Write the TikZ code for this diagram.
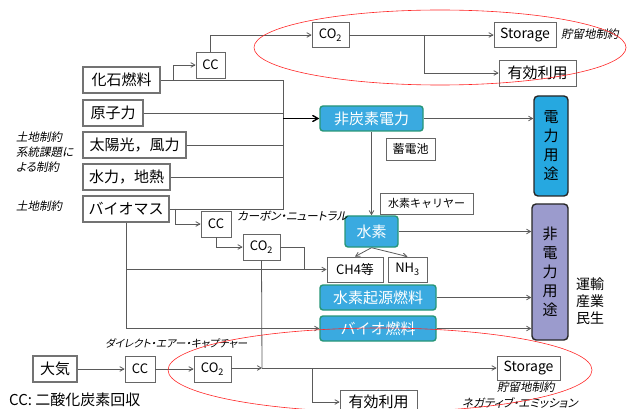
\documentclass[tikz,border=0pt]{standalone}
\usepackage{fontspec}
\setmainfont{Noto Sans CJK JP}
\newfontfamily\jpslant[FakeSlant=0.2,RawFeature=+palt]{Noto Sans CJK JP}
\usetikzlibrary{shapes,backgrounds,calc,arrows}
\tikzset{>=angle 60}

\definecolor{boxblue}{RGB}{58,170,224}
\definecolor{boxedge}{RGB}{40,150,120}
\definecolor{useblue}{RGB}{38,168,224}
\definecolor{usepurple}{RGB}{155,155,205}
\definecolor{linegray}{RGB}{90,90,90}

\begin{document}
\begin{tikzpicture}[x=1pt,y=-1pt]
\useasboundingbox (0,0) rectangle (627,409);

%% styles
\tikzstyle{srcbox}=[draw=black!55, line width=1.1pt, inner sep=0pt, minimum height=26, font=\fontsize{15}{18}\selectfont]

\tikzstyle{cbox}=[draw=black!60, line width=0.8pt, inner sep=0pt, minimum height=26, font=\fontsize{13}{15}\selectfont]

\tikzstyle{bluebox}=[draw=boxedge, fill=boxblue, text=white, rounded corners=3pt, line width=1.4pt, inner sep=0pt, minimum height=25, font=\fontsize{15}{18}\selectfont]

\tikzstyle{usebox}=[draw=black!85, rounded corners=4pt, line width=1.4pt, inner sep=0pt, align=center, font=\fontsize{15}{19}\selectfont]

\tikzstyle{note}=[inner sep=0pt, anchor=west, align=left, font=\jpslant\fontsize{11.5}{15}\selectfont]

\tikzstyle{conn}=[draw, linegray, line width=0.8pt]

%% sources
\node(fossil)[style=srcbox, minimum width=77] at (121.5,80) {化石燃料};
\node(nuclear)[style=srcbox, minimum width=60] at (113,113) {原子力};
\node(solar)[style=srcbox, minimum width=103] at (134.5,145) {太陽光，風力};
\node(hydro)[style=srcbox, minimum width=87] at (126.5,177) {水力，地熱};
\node(biomass)[style=srcbox, minimum width=86] at (126,209) {バイオマス};
\node(air)[style=srcbox, minimum width=44] at (55,369) {大気};

%% capture and storage
\node(cca)[style=cbox, minimum width=29] at (210.5,65) {CC};
\node(co2a)[style=cbox, minimum width=37, minimum height=25] at (330.5,35) {CO\textsubscript{2}};
\node(storea)[style=cbox, minimum width=62, minimum height=25, font=\fontsize{14}{16}\selectfont] at (525,35) {Storage};
\node(usea)[style=cbox, minimum width=77, font=\fontsize{15}{18}\selectfont] at (537.5,73) {有効利用};

\node(ccb)[style=cbox, minimum width=30] at (216,224) {CC};
\node(co2b)[style=cbox, minimum width=37] at (261.5,247) {CO\textsubscript{2}};

\node(ccc)[style=cbox, minimum width=30] at (140,369) {CC};
\node(co2c)[style=cbox, minimum width=37] at (212.5,369) {CO\textsubscript{2}};
\node(storeb)[style=cbox, minimum width=63, minimum height=24, font=\fontsize{14}{16}\selectfont] at (528.5,368) {Storage};
\node(useb)[style=cbox, minimum width=77, minimum height=24, font=\fontsize{15}{18}\selectfont] at (378.5,402) {有効利用};

%% carriers
\node(ncp)[style=bluebox, minimum width=103] at (371.5,118.5) {非炭素電力};
\node(batt)[style=cbox, minimum width=49, minimum height=22, font=\fontsize{12}{14}\selectfont] at (410.5,149) {蓄電池};
\node(carrier)[style=cbox, minimum width=93, minimum height=21, font=\fontsize{11}{13}\selectfont] at (426.5,203.5) {水素キャリヤー};
\node(h2)[style=bluebox, minimum width=53, minimum height=31] at (371.5,231.5) {水素};
\node(ch4)[style=cbox, minimum width=56, minimum height=25] at (355,269.5) {CH4等};
\node(nh3)[style=cbox, minimum width=39, minimum height=25] at (407.5,269.5) {NH\textsubscript{3}};
\node(h2fuel)[style=bluebox, minimum width=116] at (378,297.5) {水素起源燃料};
\node(biofuel)[style=bluebox, minimum width=116] at (378,328.5) {バイオ燃料};

%% end uses
\node(elec)[style=usebox, fill=useblue, minimum width=34, minimum height=100] at (551,146) {電\\力\\用\\途};
\node(nonelec)[style=usebox, fill=usepurple, minimum width=36, minimum height=136] at (550,272) {非\\電\\力\\用\\途};
\node(sector)[align=center, inner sep=0pt, font=\fontsize{14}{17}\selectfont] at (590,301) {運輸\\産業\\民生};

%% notes
\node(landa)[style=note] at (16,152) {土地制約\\系統課題に\\よる制約};
\node(landb)[style=note] at (16,206) {土地制約};
\node(limita)[style=note] at (561,34) {貯留地制約};
\node(neutral)[style=note] at (237,216) {カーボン・ニュートラル};
\node(dac)[style=note, font=\jpslant\fontsize{10.5}{13}\selectfont] at (105,344) {ダイレクト・エアー・キャプチャー};
\node(limitb)[style=note] at (497,387) {貯留地制約};
\node(negem)[style=note] at (462,403) {ネガティブ・エミッション};
\node(legend)[inner sep=0pt, anchor=west, font=\fontsize{15}{18}\selectfont] at (9,400) {CC: 二酸化炭素回収};

%% arrows
\coordinate (bus1) at (283,80);
\coordinate (bus2) at (283,209);
\path [conn] (fossil.east) -- (bus1) -- (bus2) -- (biomass.east);
\path [conn] (nuclear.east) -- (nuclear.east -| bus1);
\path [conn] (solar.east) -- (solar.east -| bus1);
\path [conn] (hydro.east) -- (hydro.east -| bus1);
\path [draw, ->, black, line width=1.4pt] (ncp.west -| bus1) -- (ncp.west);

\coordinate (fsplit) at (173,80);
\path [conn, ->] (fsplit) |- (cca.west);
\path [conn, ->] (cca.north) |- (co2a.west);
\path [conn, ->] (co2a.east) -- (storea.west);
\coordinate (csplit) at (424,35);
\path [conn, ->] (csplit) |- (usea.west);

\path [conn, ->] (ncp.east) -- (ncp.east -| elec.west);
\path [conn, ->] (ncp.south) -- (h2.north);
\path [conn, ->] (h2.east) -- (h2.east -| nonelec.west);
\path [conn, ->] (h2.south) -- (ch4.north);
\path [conn, ->] (h2.south) -- (nh3.north);
\path [conn, ->] (h2fuel.east) -- (h2fuel.east -| nonelec.west);
\path [conn, ->] (biofuel.east) -- (biofuel.east -| nonelec.west);

\coordinate (bsplit) at (175,209);
\path [conn, ->] (bsplit) |- (ccb.west);
\path [conn, ->] (ccb.south) |- (co2b.west);
\coordinate (bjoin) at (304,269.5);
\path [conn] (co2b.east) -| (bjoin);
\path [conn, ->] (biomass.south) |- (biofuel.west);
\coordinate (bmid) at (126,269.5);
\path [conn, ->] (bmid) -- (ch4.west);

\coordinate (dacjoin) at (262,368);
\path [conn] (co2b.south) -- (dacjoin);
\path [conn, ->] (air) -- (ccc);
\path [conn, ->] (ccc) -- (co2c);
\path [conn, ->] (co2c.east |- dacjoin) -- (dacjoin);
\path [conn, ->] (dacjoin) -- (storeb.west);
\coordinate (dsplit) at (312,368);
\path [conn, ->] (dsplit) |- (useb.west);

%% rings
\path [draw, red!85, line width=0.6pt] (440,47.5) ellipse [x radius=186, y radius=37.5];
\path [draw, red!85, line width=0.6pt] (380,370) ellipse [x radius=212, y radius=42];

\end{tikzpicture}
\end{document}
